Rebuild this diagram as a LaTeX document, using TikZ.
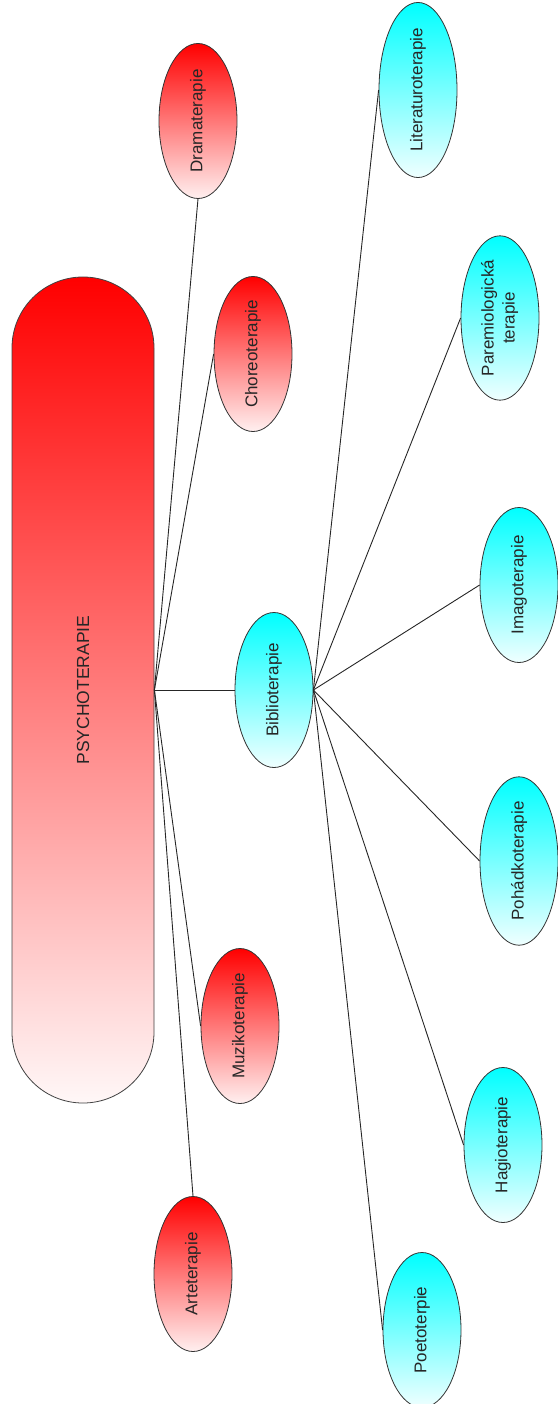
\documentclass[tikz,border=0pt]{standalone}
\usepackage{fontspec}
\setmainfont{Liberation Sans}
\usepackage{graphicx}
\usetikzlibrary{shapes.geometric}
\newcommand{\up}[1]{\rotatebox{90}{#1}}
\begin{document}
\begin{tikzpicture}[x=1pt, y=-1pt,
  therapy/.style={ellipse, draw=black!80, line width=.8pt, minimum width=78pt,
    minimum height=155pt, inner sep=0pt, text=black!85,
    font=\fontsize{17}{21}\selectfont},
  redther/.style={therapy, top color=red, bottom color=red!6},
  cyanther/.style={therapy, top color=cyan, bottom color=cyan!6},
  psybox/.style={rectangle, rounded corners=70.9pt, draw=black!75, line width=.8pt,
    minimum width=142pt, minimum height=826pt, inner sep=0pt,
    top color=red, bottom color=red!3, text=black!85,
    font=\fontsize{17.5}{21}\selectfont},
  link/.style={line width=.9pt, black!85}]
\useasboundingbox (0,0) rectangle (557,1404);
\node[psybox] (psy) at (83,690) {\up{PSYCHOTERAPIE}};
\node[redther] (drama) at (198,121) {\up{Dramaterapie}};
\node[redther] (choreo) at (253,354) {\up{Choreoterapie}};
\node[redther] (muziko) at (240,1026) {\up{Muzikoterapie}};
\node[redther] (arte) at (193,1274) {\up{Arteterapie}};
\node[cyanther] (biblio) at (274,690) {\up{Biblioterapie}};
\node[cyanther] (litera) at (418,90) {\up{Literaturoterapie}};
\node[cyanther] (paremio) at (500,318)
  {\up{\begin{tabular}{@{}c@{}}Paremiologická\\terapie\end{tabular}}};
\node[cyanther] (imago) at (519,585) {\up{Imagoterapie}};
\node[cyanther] (pohadko) at (519,861) {\up{Pohádkoterapie}};
\node[cyanther] (hagio) at (503,1145) {\up{Hagioterapie}};
\node[cyanther] (poeto) at (422,1330) {\up{Poetoterpie}};
\draw[link] (psy.east) -- (biblio.west);
\foreach \t/\a in {drama/south, choreo/west, muziko/west, arte/north}
  \draw[link] (psy.east) -- (\t.\a);
\foreach \t in {litera, paremio, imago, pohadko, hagio, poeto}
  \draw[link] (biblio.east) -- (\t.west);
\end{tikzpicture}
\end{document}
